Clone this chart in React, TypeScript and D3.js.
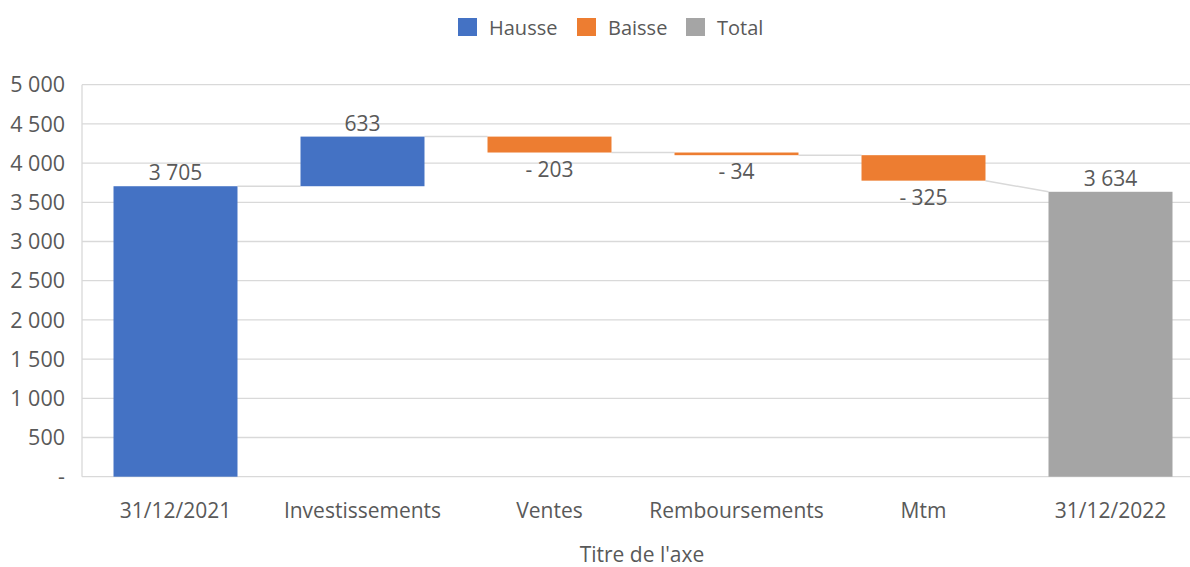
import React from "react";
import * as d3 from "d3";

const categories = ["31/12/2021", "Investissements", "Ventes", "Remboursements", "Mtm", "31/12/2022"];
const deltas = [3705, 633, -203, -34, -325, 3634];
const kinds = ["total", "up", "down", "down", "down", "total"];
const yTicks = [0, 500, 1000, 1500, 2000, 2500, 3000, 3500, 4000, 4500, 5000];
const legendItems = [
  { key: "up", label: "Hausse" },
  { key: "down", label: "Baisse" },
  { key: "total", label: "Total" },
];

const W = 1190;
const H = 567;
const colors: Record<string, string> = { up: "#4472C4", down: "#ED7D31", total: "#A5A5A5" };
const firstColor = "#4472C4";
const textColor = "#595959";
const font = "'Open Sans', sans-serif";

const fmt = (v: number) => {
  const a = Math.abs(Math.round(v));
  const s = a.toString().replace(/\B(?=(\d{3})+(?!\d))/g, " ");
  return v < 0 ? "- " + s : s;
};

export default function App() {
  const x = d3.scaleBand<string>().domain(categories).range([82, 1204]).paddingInner(0.337).paddingOuter(0.1685);
  const y = d3.scaleLinear().domain([0, 5000]).range([476.7, 84.7]);

  let run = 0;
  const segs = categories.map((c, i) => {
    const k = kinds[i];
    let start: number, end: number;
    if (k === "total") {
      start = 0;
      end = deltas[i];
      run = deltas[i];
    } else {
      start = run;
      end = run + deltas[i];
      run = end;
    }
    return { c, k, start, end, v: deltas[i], i };
  });

  const bw = x.bandwidth();

  return (
    <svg width={W} height={H} style={{ position: "absolute", left: 0, top: 0, background: "#fff" }}>
      <rect width={W} height={H} fill="#fff" />
      {yTicks.map((t) => (
        <line key={t} x1={82} x2={W} y1={y(t)} y2={y(t)} stroke="#D9D9D9" strokeWidth={1.3} />
      ))}
      <line x1={82} x2={82} y1={y(0)} y2={y(5000)} stroke="#D9D9D9" strokeWidth={1.3} />
      {yTicks.map((t) => (
        <text key={t} x={65} y={y(t)} dy="0.36em" textAnchor="end" fontFamily={font} fontSize={21.5} fill={textColor}>
          {t === 0 ? "-" : fmt(t)}
        </text>
      ))}
      {segs.slice(0, -1).map((s, i) => {
        const nxt = segs[i + 1];
        const fromV = s.end;
        const toV = nxt.k === "total" ? nxt.end : nxt.start;
        return (
          <line
            key={"c" + i}
            x1={(x(s.c) as number) + bw}
            x2={x(nxt.c) as number}
            y1={y(fromV)}
            y2={y(toV)}
            stroke="#D9D9D9"
            strokeWidth={1.5}
          />
        );
      })}
      {segs.map((s) => (
        <rect
          key={s.c}
          x={x(s.c)}
          width={bw}
          y={y(Math.max(s.start, s.end))}
          height={Math.abs(y(s.start) - y(s.end))}
          fill={s.i === 0 ? firstColor : colors[s.k]}
        />
      ))}
      {segs.map((s) => {
        const cx = (x(s.c) as number) + bw / 2;
        const above = s.v >= 0;
        const yy = above ? y(Math.max(s.start, s.end)) - 6 : y(Math.min(s.start, s.end)) + 24;
        return (
          <text key={"l" + s.c} x={cx} y={yy} textAnchor="middle" fontFamily={font} fontSize={21} fill={textColor}>
            {fmt(s.v)}
          </text>
        );
      })}
      {categories.map((c) => (
        <text key={"x" + c} x={(x(c) as number) + bw / 2} y={518} textAnchor="middle" fontFamily={font} fontSize={21} fill={textColor}>
          {c}
        </text>
      ))}
      <text x={642} y={562} textAnchor="middle" fontFamily={font} fontSize={21} fill={textColor}>
        Titre de l'axe
      </text>
      {legendItems.map((l, i) => {
        const lx = [458, 577, 686][i];
        return (
          <g key={l.key}>
            <rect x={lx} y={18} width={19} height={18} fill={colors[l.key]} />
            <text x={lx + 31} y={35} fontFamily={font} fontSize={20} fill={textColor}>
              {l.label}
            </text>
          </g>
        );
      })}
    </svg>
  );
}
